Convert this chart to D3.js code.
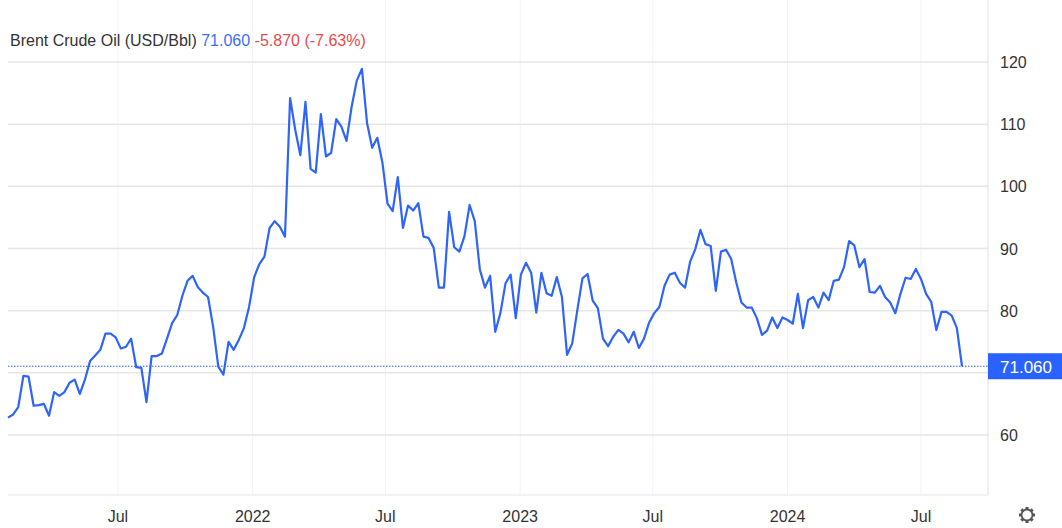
<!DOCTYPE html>
<html><head><meta charset="utf-8">
<script src="https://cdn.jsdelivr.net/npm/d3@7"></script>
<style>body{margin:0;background:#fff;font-family:Arial,"Liberation Sans",sans-serif}</style>
</head><body><svg id="c" width="1062" height="528"></svg>
<script>
const startDate = "2021-02-01";
const values = [62.8,63.3,64.5,69.5,69.4,64.7,64.8,65.0,63.1,66.9,66.3,66.9,68.4,68.9,66.6,68.9,71.9,72.8,73.7,76.3,
76.3,75.7,73.9,74.2,75.5,70.9,70.8,65.3,72.7,72.7,73.1,75.5,78.0,79.3,82.4,84.8,85.6,83.8,82.9,82.2,
77.4,71.0,69.7,75.0,73.7,75.3,77.2,80.6,85.4,87.5,
88.7,93.3,94.4,93.5,91.9,114.2,109.1,105.0,113.6,102.8,
102.2,111.6,104.8,105.4,110.8,109.6,107.3,112.8,117.0,118.9,
110.2,106.2,107.8,103.8,97.2,96.0,101.5,93.3,96.9,96.1,
97.3,91.9,91.7,90.1,83.7,83.7,95.9,90.2,89.5,92.0,
97.0,94.4,86.6,83.7,85.6,76.6,79.6,84.4,85.8,78.8,
85.8,87.7,86.1,79.7,86.1,82.8,82.4,85.4,82.2,72.9,
74.7,80.1,85.2,85.9,81.6,80.4,75.5,74.3,75.8,76.9,
76.3,74.9,76.6,74.0,75.5,78.1,79.6,80.6,84.0,85.8,
86.1,84.5,83.7,87.9,89.9,93.0,90.7,90.4,83.2,89.5,
89.8,88.3,84.5,81.3,80.5,80.5,78.8,76.1,76.8,78.9,
77.2,78.9,78.5,77.9,82.7,77.2,81.7,82.2,80.5,82.9,
81.7,84.8,85.0,87.0,91.2,90.5,87.0,88.3,83.0,82.9,
84.0,82.2,81.3,79.6,82.7,85.3,85.1,86.7,85.1,82.7,
81.4,76.9,79.8,79.8,79.2,77.2,71.06];
const yTicks = [60,70,80,90,100,110,120];
const yLabels = ["60","","80","90","100","110","120"];
const xTicks = ["2021-07-01","2022-01-01","2022-07-01","2023-01-01","2023-07-01","2024-01-01","2024-07-01"];
const xLabels = ["Jul","2022","Jul","2023","Jul","2024","Jul"];
const title = "Brent Crude Oil (USD/Bbl)", last = "71.060", change = "-5.870 (-7.63%)";

const p = d3.timeParse("%Y-%m-%d");
const s0 = p(startDate);
const data = values.map((v,i)=>({d:d3.timeDay.offset(s0,i*7),v}));
const x = d3.scaleTime().domain([data[0].d,data[data.length-1].d]).range([8,962]);
const y = d3.scaleLinear().domain([60,120]).range([435,62]);
const svg = d3.select("#c");
const R = 988;
svg.selectAll(".vg").data(xTicks).join("line").attr("x1",d=>x(p(d))).attr("x2",d=>x(p(d)))
 .attr("y1",0).attr("y2",495).attr("stroke","#edf2fa").attr("stroke-width",1);
svg.selectAll(".hg").data(yTicks).join("line").attr("x1",8).attr("x2",R)
 .attr("y1",d=>y(d)).attr("y2",d=>y(d)).attr("stroke","#e6e6e6").attr("stroke-width",1.5);
svg.append("line").attr("x1",R).attr("x2",R).attr("y1",0).attr("y2",495).attr("stroke","#e0e0e0");
svg.append("line").attr("x1",8).attr("x2",R).attr("y1",495).attr("y2",495).attr("stroke","#e6e6e6");
svg.selectAll(".yl").data(yTicks).join("text").attr("x",1000).attr("y",d=>y(d)+6)
 .attr("font-size",16).attr("fill","#333").text((d,i)=>yLabels[i]);
svg.selectAll(".xl").data(xTicks).join("text").attr("x",d=>x(p(d))).attr("y",522)
 .attr("text-anchor","middle").attr("font-size",16).attr("fill","#333").text((d,i)=>xLabels[i]);
const lv = values[values.length-1];
svg.append("line").attr("x1",8).attr("x2",R).attr("y1",y(lv)).attr("y2",y(lv))
 .attr("stroke","#2962ff").attr("stroke-width",1).attr("stroke-dasharray","1.5,1.5");
svg.append("path").datum(data).attr("fill","none").attr("stroke","#2e64fa").attr("stroke-width",2.2)
 .attr("stroke-linejoin","round").attr("d",d3.line().x(d=>x(d.d)).y(d=>y(d.v)));
svg.append("rect").attr("x",R).attr("y",y(lv)-13).attr("width",74).attr("height",26).attr("fill","#2962ff");
svg.append("text").attr("x",1026).attr("y",y(lv)+7).attr("text-anchor","middle").attr("font-size",17)
 .attr("fill","#fff").text(last);
const t = svg.append("text").attr("x",10).attr("y",46).attr("font-size",16);
t.append("tspan").attr("fill","#333").text(title+" ");
t.append("tspan").attr("fill","#3d6ef5").text(last+" ");
t.append("tspan").attr("fill","#e54b4b").text(change);
// gear icon
const g = svg.append("g").attr("transform","translate(1027,515)");
g.append("path").attr("d",d3.range(8).map(i=>{const a=i*Math.PI/4;return `M${Math.cos(a)*5},${Math.sin(a)*5}L${Math.cos(a)*8},${Math.sin(a)*8}`}).join(""))
 .attr("stroke","#555").attr("stroke-width",3);
g.append("circle").attr("r",5.5).attr("fill","none").attr("stroke","#555").attr("stroke-width",1.8);
</script></body></html>
